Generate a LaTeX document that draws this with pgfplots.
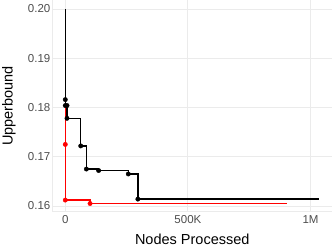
\documentclass[border=0pt]{standalone}
\usepackage{pgfplots}
\pgfplotsset{compat=1.18}
\usepackage{fontspec}
\setmainfont{Liberation Sans}
\definecolor{gridc}{HTML}{EBEBEB}
\definecolor{tickc}{HTML}{4D4D4D}
\definecolor{pured}{HTML}{FF0000}
\begin{document}
\begin{tikzpicture}
\useasboundingbox (-52.5pt,-37.3pt) rectangle (279.5pt,211.7pt);
\begin{axis}[
 at={(0pt,0pt)}, anchor=south west,
 scale only axis, width=279.5pt, height=211.7pt,
 xmin=-52200, xmax=1087700, ymin=0.15884, ymax=0.20183,
 axis x line*=bottom, axis y line*=left,
 axis line style={draw=gridc, line width=0.9pt, -},
 xtick={0,500000,1000000}, xticklabels={0,500K,1M},
 ytick={0.16,0.17,0.18,0.19,0.20}, yticklabels={0.16,0.17,0.18,0.19,0.20},
 scaled x ticks=false, scaled y ticks=false,
 major tick length=0pt,
 grid=major, major grid style={draw=gridc, line width=0.9pt},
 tick label style={font=\fontsize{11.5}{13}\selectfont, text=tickc},
 yticklabel style={anchor=east, inner sep=0pt, xshift=-2pt},
 xticklabel style={anchor=north, inner sep=0pt, yshift=-3.3pt},
 xlabel={Nodes Processed}, ylabel={Upperbound},
 label style={font=\fontsize{14.5}{16}\selectfont},
 xlabel style={at={([yshift=-27.5pt]rel axis cs:0.5,0)}, anchor=center},
 ylabel style={at={([xshift=-43.5pt]rel axis cs:0,0.5)}, anchor=center},
]
\addplot[draw=pured, line width=1.4pt, const plot mark left] coordinates {(0,0.20)(0,0.1725)(0,0.1612)(101000,0.1612)(101000,0.1605)(903000,0.1605)};
\addplot[pured, only marks, mark=*, mark size=2.2pt, mark options={draw=pured, fill=pured}] coordinates {(0,0.1725)(0,0.1612)(101000,0.1605)};
\addplot[black, line width=1.4pt, const plot mark left] coordinates {(0,0.20)(0,0.1816)(0,0.1804)(7000,0.1804)(7000,0.1778)(63000,0.1722)(86000,0.1675)(136000,0.1672)(257000,0.1665)(296000,0.1614)(1036000,0.1614)};
\addplot[black, only marks, mark=*, mark size=2.2pt] coordinates {(0,0.1816)(0,0.1804)(7000,0.1804)(7000,0.1778)(63000,0.1722)(86000,0.1675)(136000,0.1672)(257000,0.1665)(296000,0.1614)};
\end{axis}
\end{tikzpicture}
\end{document}
